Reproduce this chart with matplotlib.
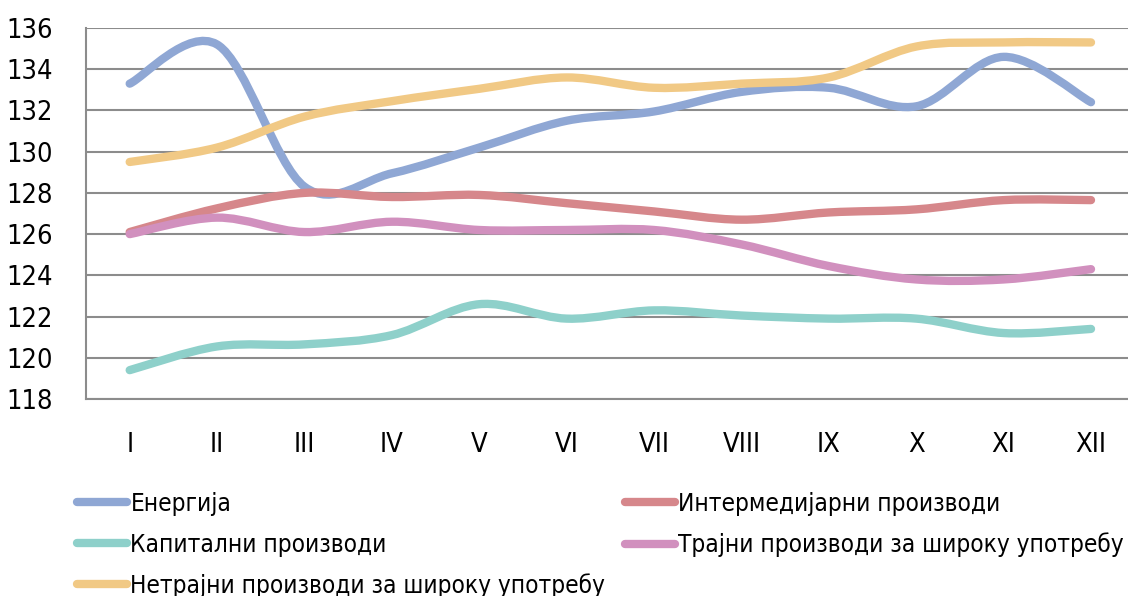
import numpy as np
import matplotlib
matplotlib.use('Agg')
import matplotlib.pyplot as plt
import matplotlib.font_manager as fm
from matplotlib.path import Path
from matplotlib.patches import PathPatch
from matplotlib.lines import Line2D

# try to find a condensed sans face (original uses Myriad Condensed)
narrow = [f for f in fm.fontManager.ttflist
          if (f.stretch in ('condensed', 'semi-condensed', 'extra-condensed')
              or 'Condensed' in f.name or 'Narrow' in f.name)
          and f.style == 'normal' and f.weight in (400, 'normal', 'regular')
          and 'Mono' not in f.name and 'Serif' not in f.name and 'CJK' not in f.name]
narrow.sort(key=lambda f: 0 if f.stretch == 'condensed' else 1)
if narrow:
    font_file = narrow[0].fname
    condensed = True
else:
    font_file = fm.findfont('Roboto')
    condensed = False


def fp(size):
    return fm.FontProperties(fname=font_file, size=size)


months = ['I', 'II', 'III', 'IV', 'V', 'VI', 'VII', 'VIII', 'IX', 'X', 'XI', 'XII']

energija = [133.3, 135.2, 128.3, 128.95, 130.2, 131.5, 131.95, 132.9, 133.1, 132.2, 134.6, 132.4]
intermedijarni = [126.1, 127.25, 128.0, 127.8, 127.9, 127.5, 127.1, 126.7, 127.05, 127.2, 127.65, 127.65]
kapitalni = [119.4, 120.55, 120.65, 121.1, 122.6, 121.9, 122.3, 122.05, 121.9, 121.9, 121.2, 121.4]
trajni = [126.0, 126.8, 126.1, 126.6, 126.2, 126.2, 126.2, 125.5, 124.45, 123.8, 123.8, 124.3]
netrajni = [129.5, 130.2, 131.7, 132.45, 133.05, 133.6, 133.1, 133.3, 133.6, 135.1, 135.3, 135.3]

series = [
    ('Енергија', energija, '#8FA7D4'),
    ('Капитални производи', kapitalni, '#8ED0CA'),
    ('Нетрајни производи за широку употребу', netrajni, '#F1C985'),
    ('Интермедијарни производи', intermedijarni, '#D6878B'),
    ('Трајни производи за широку употребу', trajni, '#D190BE'),
]


def smooth_path(x, y, t=1/6):
    # Excel-like smooth line: cubic bezier through the points (Catmull-Rom)
    x = np.asarray(x, float)
    y = np.asarray(y, float)
    n = len(x)
    verts = [(x[0], y[0])]
    codes = [Path.MOVETO]
    for i in range(n - 1):
        p0 = i - 1 if i > 0 else i
        p3 = i + 2 if i + 2 < n else i + 1
        c1 = (x[i] + (x[i + 1] - x[p0]) * t, y[i] + (y[i + 1] - y[p0]) * t)
        c2 = (x[i + 1] - (x[p3] - x[i]) * t, y[i + 1] - (y[p3] - y[i]) * t)
        verts += [c1, c2, (x[i + 1], y[i + 1])]
        codes += [Path.CURVE4] * 3
    return Path(verts, codes)


tick_size = 19.5 if condensed else 17
leg_size = 17.5 if condensed else 15.5

fig = plt.figure(figsize=(11.28, 5.96), dpi=100)
ax = fig.add_axes([86 / 1128, 1 - 399 / 596, (1134.7 - 86) / 1128, (399 - 28) / 596])

xs = np.arange(len(months))
handles = []
for label, vals, color in series:
    patch = PathPatch(smooth_path(xs, vals), facecolor='none', edgecolor=color,
                      lw=6, capstyle='round', joinstyle='round', zorder=3)
    ax.add_patch(patch)
    handles.append(Line2D([], [], color=color, lw=6, solid_capstyle='round', label=label))

ax.set_xlim(-0.5, len(months) - 0.5)
ax.set_ylim(118, 136)
ax.set_yticks(np.arange(118, 137, 2))
ax.set_xticks(xs)
ax.set_xticklabels(months)
ax.grid(axis='y', color='#8C8C8C', lw=1.5)
ax.set_axisbelow(True)
for s in ['top', 'right']:
    ax.spines[s].set_visible(False)
for s in ['left', 'bottom']:
    ax.spines[s].set_color('#8C8C8C')
    ax.spines[s].set_linewidth(1.5)
ax.tick_params(axis='both', length=0)
ax.tick_params(axis='y', pad=24)
ax.tick_params(axis='x', pad=24)
for lbl in ax.get_xticklabels() + ax.get_yticklabels():
    lbl.set_fontproperties(fp(tick_size))

fig.legend(handles=handles, ncol=2, loc='upper left', bbox_to_anchor=(77 / 1128, 1 - 492 / 596),
           frameon=False, prop=fp(leg_size), handlelength=2.05, handletextpad=0.15,
           columnspacing=0.8, labelspacing=0.68, borderaxespad=0, borderpad=0)

fig.savefig('out.png', dpi=100)
